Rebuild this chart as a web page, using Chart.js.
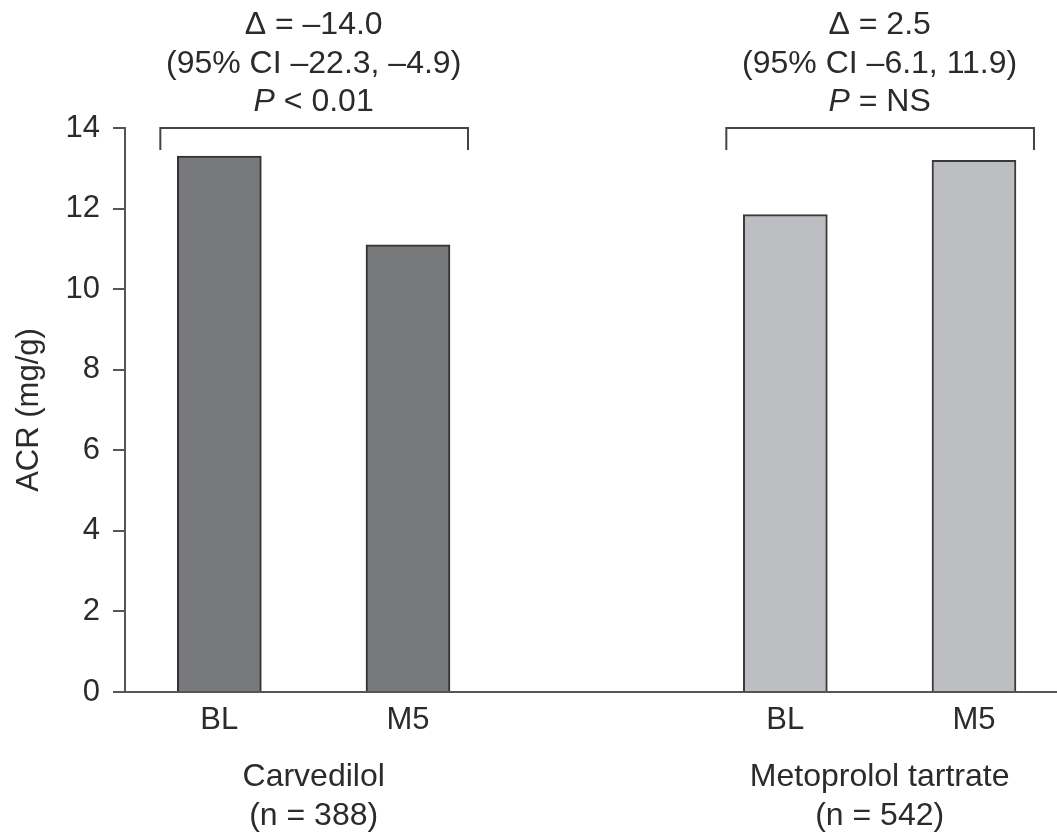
<!DOCTYPE html>
<html>
<head>
<meta charset="utf-8">
<script src="https://cdn.jsdelivr.net/npm/chart.js@4"></script>
<style>
  html, body { margin: 0; padding: 0; background: #ffffff; }
  #wrap { width: 1057px; height: 834px; }
</style>
</head>
<body>
<div id="wrap"><canvas id="acr" width="1057" height="834"></canvas></div>
<script>
// Albumin-to-creatinine ratio at baseline (BL) and month 5 (M5)
const groups = ['Carvedilol', 'Metoprolol tartrate'];
const groupSizes = ['(n = 388)', '(n = 542)'];
const timepoints = ['BL', 'M5'];
const carvedilolACR = [13.3, 11.1];
const metoprololACR = [11.85, 13.2];
const yTicks = [0, 2, 4, 6, 8, 10, 12, 14];
const deltaLabels = ['\u0394 = \u201314.0', '\u0394 = 2.5'];
const ciLabels = ['(95% CI \u201322.3, \u20134.9)', '(95% CI \u20136.1, 11.9)'];
const pLabels = ['< 0.01', '= NS'];

const FONT = '"Liberation Sans", Arial, Helvetica, sans-serif';
const SIZE = 31;
const NOTE_SIZE = 32;
const TEXT = '#2b2b2b';
const AXIS = '#555555';

// each group occupies two slots, with one empty slot between groups
const slot = (g, t) => g * 3 + t;
const toPoints = (g, vals) => vals.map((v, t) => ({ x: slot(g, t), y: v }));

const groupText = {
  id: 'groupText',
  afterDraw(chart) {
    const { ctx, scales: { x, y } } = chart;
    const normal = NOTE_SIZE + 'px ' + FONT;
    const italic = 'italic ' + NOTE_SIZE + 'px ' + FONT;
    ctx.save();
    ctx.fillStyle = TEXT;
    ctx.textAlign = 'center';
    ctx.textBaseline = 'middle';
    groups.forEach((name, g) => {
      const cx = x.getPixelForValue(slot(g, 0.5));
      // group name and size under the axis
      ctx.font = normal;
      ctx.fillText(name, cx, 777);
      ctx.fillText(groupSizes[g], cx, 816);

      // bracket spanning both bars
      const x0 = x.getPixelForValue(slot(g, 0)) - 42 - 17;
      const x1 = x.getPixelForValue(slot(g, 1)) + 42 + 18;
      const yTop = y.getPixelForValue(14);
      ctx.strokeStyle = '#444444';
      ctx.lineWidth = 2;
      ctx.beginPath();
      ctx.moveTo(x0, yTop + 22);
      ctx.lineTo(x0, yTop);
      ctx.lineTo(x1, yTop);
      ctx.lineTo(x1, yTop + 22);
      ctx.stroke();

      // difference, confidence interval and p value above the bracket
      ctx.fillText(deltaLabels[g], cx, 25);
      ctx.fillText(ciLabels[g], cx, 64);
      const rest = ' ' + pLabels[g];
      ctx.font = italic;
      const wP = ctx.measureText('P').width;
      ctx.font = normal;
      const wR = ctx.measureText(rest).width;
      const start = cx - (wP + wR) / 2;
      ctx.textAlign = 'left';
      ctx.font = italic;
      ctx.fillText('P', start, 102);
      ctx.font = normal;
      ctx.fillText(rest, start + wP, 102);
      ctx.textAlign = 'center';
    });
    ctx.restore();
  }
};

new Chart(document.getElementById('acr'), {
  type: 'bar',
  data: {
    datasets: [
      {
        label: groups[0],
        data: toPoints(0, carvedilolACR),
        backgroundColor: '#78797b',
        borderColor: '#333333',
        borderWidth: 2,
        barThickness: 84
      },
      {
        label: groups[1],
        data: toPoints(1, metoprololACR),
        backgroundColor: '#bdbec1',
        borderColor: '#3a3a3a',
        borderWidth: 2,
        barThickness: 84
      }
    ]
  },
  options: {
    responsive: false,
    animation: false,
    grouped: false,
    layout: { padding: { top: 128, right: 0, bottom: 0, left: 0 } },
    plugins: {
      legend: { display: false },
      tooltip: { enabled: false }
    },
    scales: {
      x: {
        type: 'linear',
        offset: false,
        min: -0.5,
        max: 4.44,
        afterFit(scale) { scale.height = 142; },
        afterBuildTicks(scale) {
          scale.ticks = [0, 1, 3, 4].map(v => ({ value: v }));
        },
        ticks: {
          padding: 10,
          color: TEXT,
          font: { family: FONT, size: SIZE },
          maxRotation: 0,
          autoSkip: false,
          callback: v => timepoints[v % 3]
        },
        grid: { display: false, drawTicks: false },
        border: { display: true, color: AXIS, width: 2 }
      },
      y: {
        min: 0,
        max: 14,
        afterFit(scale) { scale.width = 125; },
        afterBuildTicks(scale) {
          scale.ticks = yTicks.map(v => ({ value: v }));
        },
        ticks: {
          padding: 13,
          color: TEXT,
          font: { family: FONT, size: SIZE }
        },
        grid: {
          drawOnChartArea: false,
          drawTicks: true,
          tickLength: 12,
          color: AXIS,
          lineWidth: 2
        },
        border: { display: true, color: AXIS, width: 2 },
        title: {
          display: true,
          text: 'ACR (mg/g)',
          color: TEXT,
          font: { family: FONT, size: SIZE },
          padding: { top: 11, bottom: 0 }
        }
      }
    }
  },
  plugins: [groupText]
});
</script>
</body>
</html>
